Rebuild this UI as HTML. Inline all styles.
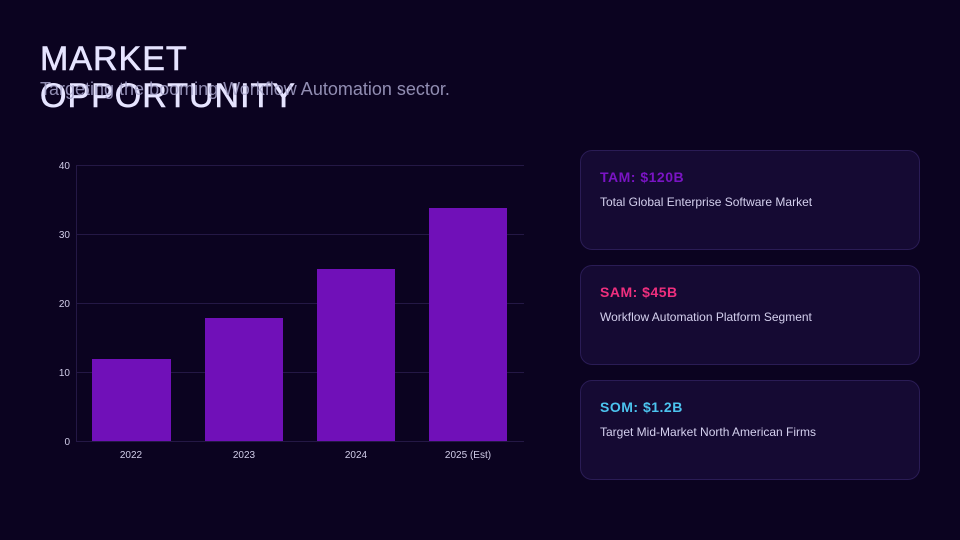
<!DOCTYPE html>
<html><head><style>
body{margin:0;width:960px;height:540px;background:#0b0320;overflow:hidden;font-family:"Liberation Sans",sans-serif;position:relative}
.t{position:absolute;left:40px;top:41px;color:#e6e4ff;font-size:34px;font-weight:normal;line-height:37px;letter-spacing:1px;-webkit-text-stroke:0.6px #e6e4ff}
.s{position:absolute;left:40px;top:79px;color:#a9a6cc;font-size:18px;opacity:.85}
.c{position:absolute;left:580px;width:338px;height:98px;background:#150a33;border:1px solid #2a1c55;border-radius:12px}
.c h{position:absolute;left:19px;top:18px;font-size:14px;font-weight:bold;letter-spacing:0.5px}
.c p{position:absolute;left:19px;top:44px;margin:0;font-size:12px;color:#d4d0ee}
</style></head><body>
<div class="t">MARKET<br>OPPORTUNITY</div>
<div class="s">Targeting the booming Workflow Automation sector.</div>
<svg width="960" height="540" style="position:absolute;left:0;top:0" font-family="Liberation Sans" font-size="10" fill="#d0cce8">
<g stroke="#241845" stroke-width="1">
<line x1="76" y1="165.5" x2="524" y2="165.5"/><line x1="76" y1="234.5" x2="524" y2="234.5"/>
<line x1="76" y1="303.5" x2="524" y2="303.5"/><line x1="76" y1="372.5" x2="524" y2="372.5"/>
<line x1="76" y1="441.5" x2="524" y2="441.5"/><line x1="76.5" y1="165" x2="76.5" y2="442"/>
</g>
<g text-anchor="end"><text x="70" y="169">40</text><text x="70" y="238">30</text><text x="70" y="307">20</text><text x="70" y="376">10</text><text x="70" y="445">0</text></g>
<g fill="#7010b8"><rect x="92" y="359" width="79" height="82"/><rect x="205" y="318" width="78" height="123"/><rect x="317" y="269" width="78" height="172"/><rect x="429" y="208" width="78" height="233"/></g>
<g text-anchor="middle"><text x="131" y="458">2022</text><text x="244" y="458">2023</text><text x="356" y="458">2024</text><text x="468" y="458">2025 (Est)</text></g>
</svg>
<div class="c" style="top:150px"><h style="color:#7a14c4">TAM: $120B</h><p>Total Global Enterprise Software Market</p></div>
<div class="c" style="top:265px"><h style="color:#ef2f7e">SAM: $45B</h><p>Workflow Automation Platform Segment</p></div>
<div class="c" style="top:380px"><h style="color:#4cc4ef">SOM: $1.2B</h><p>Target Mid-Market North American Firms</p></div>
</body></html>
